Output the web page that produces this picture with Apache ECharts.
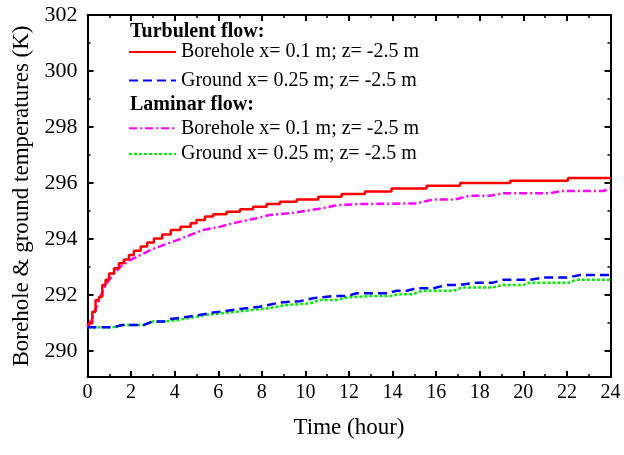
<!DOCTYPE html>
<html>
<head>
<meta charset="utf-8">
<script src="https://cdn.jsdelivr.net/npm/echarts@6/dist/echarts.min.js"></script>
<style>
html,body{margin:0;padding:0;background:#fff;}
#chart{width:624px;height:455px;}
</style>
</head>
<body>
<div id="chart"></div>
<script>
// ---- data ----
const xTicks = [0,2,4,6,8,10,12,14,16,18,20,22,24];
const yTicks = [290,292,294,296,298,300,302];
const yMinorTicks = [291,293,295,297,299,301];

const turbBoreT = [0,0.07,0.22,0.37,0.53,0.68,0.83,0.99,1.22,1.44,1.67,1.9,2.13,2.44,2.74,3.05,3.43,3.82,4.27,4.73,5.0,5.39,5.77,6.38,7.0,7.6,8.22,8.83,9.6,10.59,11.66,12.73,13.95,15.56,17.1,19.4,22.05,24];
const turbBoreV = [290.9,290.99,291.40,291.82,291.94,292.36,292.54,292.77,292.95,293.13,293.27,293.43,293.58,293.73,293.87,294.02,294.16,294.32,294.44,294.56,294.68,294.8,294.88,294.97,295.06,295.15,295.25,295.33,295.41,295.51,295.61,295.7,295.8,295.9,296.0,296.08,296.18,296.2];

const turbGroundT = [0,1.22,1.6,2.6,2.97,3.5,3.82,4.7,5.77,7.0,7.9,8.83,9.75,10.36,11.28,11.9,12.35,13.7,14.2,14.66,15.1,15.87,16.5,17.1,17.85,18.6,19.07,20.3,20.9,22.0,22.6,24];
const turbGroundV = [290.85,290.85,290.93,290.93,291.05,291.05,291.14,291.23,291.37,291.5,291.58,291.73,291.78,291.88,291.96,291.96,292.06,292.06,292.15,292.15,292.24,292.24,292.36,292.36,292.44,292.44,292.54,292.54,292.62,292.62,292.71,292.71];

const lamBoreT = [0,0.07,0.3,0.53,0.76,0.99,1.29,1.6,1.98,2.44,2.9,3.51,4.12,4.7,5.3,6.08,7.0,7.76,8.37,9.3,10.05,10.8,11.43,12.65,15.1,15.86,16.86,17.5,18.46,19.07,21.2,21.75,23.66,24];
const lamBoreV = [290.85,290.93,291.34,291.82,292.24,292.54,292.83,293.07,293.25,293.43,293.61,293.79,293.96,294.14,294.32,294.44,294.62,294.74,294.86,294.92,295.01,295.1,295.21,295.25,295.27,295.41,295.41,295.54,295.54,295.63,295.63,295.71,295.71,295.81];

const lamGroundT = [0,1.22,1.6,2.6,2.97,3.5,4.1,5.47,6.84,8.22,9.14,10.2,10.67,11.4,11.9,12.96,13.9,14.3,14.9,15.4,16.8,17.2,18.6,19.07,20.0,20.3,22.1,22.4,24];
const lamGroundV = [290.85,290.85,290.93,290.93,291.05,291.05,291.1,291.29,291.4,291.52,291.64,291.7,291.82,291.82,291.91,291.96,291.96,292.03,292.03,292.15,292.15,292.27,292.27,292.36,292.36,292.44,292.44,292.54,292.54];

const names = ['Borehole x= 0.1 m; z= -2.5 m ', 'Ground x= 0.25 m; z= -2.5 m', 'Borehole x= 0.1 m; z= -2.5 m', 'Ground x= 0.25 m; z= -2.5 m '];

function pairs(t, v){ return t.map((x,i)=>[x, v[i]]); }

const FONT = 'Liberation Serif';
const Y_MIN = 289.07, Y_MAX = 302;

const chart = echarts.init(document.getElementById('chart'));
const axisLine = {show:true, lineStyle:{color:'#000', width:2}};
const legendCommon = {orient:'vertical', left:128, itemWidth:47, itemHeight:22,
  textStyle:{color:'#000', fontFamily:FONT, fontSize:20, lineHeight:22},
  itemStyle:{opacity:0, borderWidth:0},
  selectedMode:false, padding:0};
chart.setOption({
  animation:false,
  backgroundColor:'#fff',
  grid:{left:87.5, right:13.5, top:15, bottom:78, outerBoundsMode:'none', containLabel:false},
  xAxis:[
    {type:'value', min:0, max:24, interval:2, position:'bottom',
     axisLine:axisLine,
     axisTick:{show:true, inside:true, length:6, lineStyle:{color:'#000', width:2}},
     minorTick:{show:true, splitNumber:2, length:3, lineStyle:{color:'#000', width:1.5}},
     axisLabel:{color:'#000', fontFamily:FONT, fontSize:20, margin:6},
     splitLine:{show:false},
     name:'Time (hour)', nameLocation:'middle', nameGap:39,
     nameTextStyle:{color:'#000', fontFamily:FONT, fontSize:23}},
    {type:'value', min:0, max:24, interval:2, position:'top',
     axisLine:axisLine,
     axisTick:{show:true, inside:true, length:6, lineStyle:{color:'#000', width:2}},
     minorTick:{show:true, splitNumber:2, length:3, lineStyle:{color:'#000', width:1.5}},
     axisLabel:{show:false}, splitLine:{show:false}}
  ],
  yAxis:[
    {type:'value', min:Y_MIN, max:Y_MAX, position:'left',
     axisLine:axisLine,
     axisTick:{show:true, inside:true, length:6, customValues:yTicks, lineStyle:{color:'#000', width:2}},
     axisLabel:{color:'#000', fontFamily:FONT, fontSize:22, margin:10, customValues:yTicks},
     splitLine:{show:false},
     name:'Borehole & ground temperatures (K)', nameLocation:'middle', nameGap:50,
     nameTextStyle:{color:'#000', fontFamily:FONT, fontSize:23}},
    {type:'value', min:Y_MIN, max:Y_MAX, position:'left',
     axisLine:{show:false},
     axisTick:{show:true, inside:true, length:3, customValues:yMinorTicks, lineStyle:{color:'#000', width:1.5}},
     axisLabel:{show:false, customValues:yMinorTicks}, splitLine:{show:false}},
    {type:'value', min:Y_MIN, max:Y_MAX, position:'right',
     axisLine:axisLine,
     axisTick:{show:true, inside:true, length:6, customValues:yTicks, lineStyle:{color:'#000', width:2}},
     axisLabel:{show:false, customValues:yTicks}, splitLine:{show:false}},
    {type:'value', min:Y_MIN, max:Y_MAX, position:'right',
     axisLine:{show:false},
     axisTick:{show:true, inside:true, length:3, customValues:yMinorTicks, lineStyle:{color:'#000', width:1.5}},
     axisLabel:{show:false, customValues:yMinorTicks}, splitLine:{show:false}}
  ],
  legend:[
    Object.assign({data:[names[0], names[1]], top:41, itemGap:6.4}, legendCommon),
    Object.assign({data:[names[2], names[3]], top:117.3, itemGap:3.7}, legendCommon)
  ],
  graphic:[
    {type:'text', left:130, top:21.5, style:{text:'Turbulent flow:', fontFamily:FONT, fontSize:20, fontWeight:'bold', fill:'#000'}},
    {type:'text', left:130, top:95, style:{text:'Laminar flow:', fontFamily:FONT, fontSize:20, fontWeight:'bold', fill:'#000'}}
  ],
  series:[
    {name:names[3], type:'line', data:pairs(lamGroundT, lamGroundV), showSymbol:false, symbol:'none',
     lineStyle:{color:'#00ee00', width:2.5, type:[3,2]}, itemStyle:{color:'#00ee00'}, z:2},
    {name:names[1], type:'line', data:pairs(turbGroundT, turbGroundV), showSymbol:false, symbol:'none',
     lineStyle:{color:'#0000ff', width:2.5, type:[9,5]}, itemStyle:{color:'#0000ff'}, z:3},
    {name:names[2], type:'line', data:pairs(lamBoreT, lamBoreV), showSymbol:false, symbol:'none',
     lineStyle:{color:'#ff00ff', width:2.5, type:[8,3,2,3]}, itemStyle:{color:'#ff00ff'}, z:2},
    {name:names[0], type:'line', step:'end', data:pairs(turbBoreT, turbBoreV), showSymbol:false, symbol:'none',
     lineStyle:{color:'#ff0000', width:2.5, type:'solid'}, itemStyle:{color:'#ff0000'}, z:4}
  ]
});
</script>
</body>
</html>
